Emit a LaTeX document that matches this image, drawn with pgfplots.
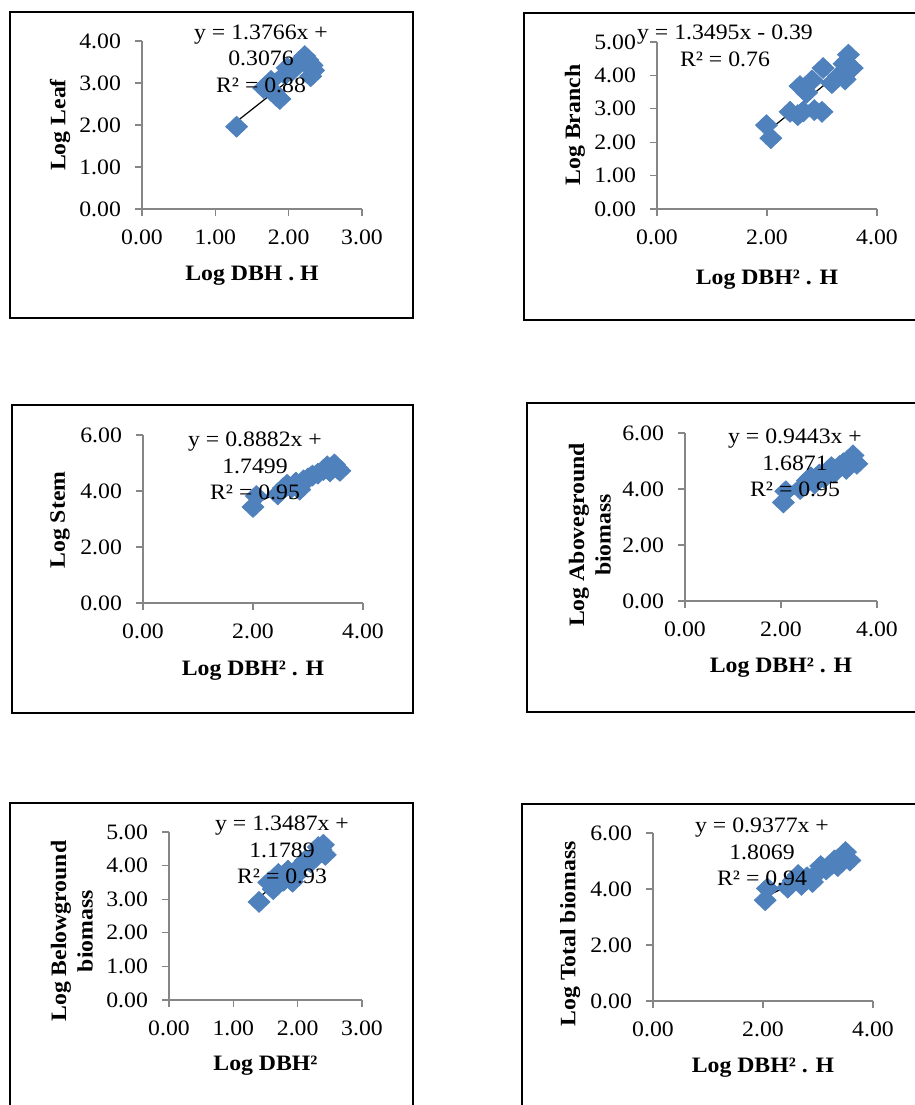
\documentclass[border=0pt]{standalone}
\usepackage{fontspec}
\setmainfont{Liberation Serif}[FakeStretch=1.08]
\usepackage{pgfplots}
\pgfplotsset{compat=1.18}
\definecolor{ptblue}{HTML}{4F81BD}
\definecolor{axgray}{HTML}{868686}
\newcommand\fs{\fontsize{11}{13.25}\selectfont}

\pgfplotsset{
  panel/.style={
    scale only axis,
    anchor=south west,
    axis lines=left,
    axis line style={draw=axgray, line width=0.6pt, -},
    tick style={draw=axgray, line width=0.6pt},
    tick align=outside,
    major tick length=3.5pt,
    tick label style={font=\fs},
    xticklabel style={yshift=-3.5pt},
    yticklabel style={xshift=-3.5pt},
    /pgf/number format/fixed,
    /pgf/number format/fixed zerofill,
    /pgf/number format/precision=2,
    /pgf/number format/assume math mode=true,
    label style={font=\fs\bfseries, align=center},
    xlabel style={anchor=center, yshift=-1.5pt},
    ylabel style={anchor=center},
    clip=false,
  },
  pts/.style={only marks, mark=diamond*, mark size=5.2pt, color=ptblue,
    mark options={xscale=1.4}},
  trend/.style={black, line width=0.6pt, no marks},
}

\begin{document}
\begin{tikzpicture}
% frames round the six charts
\draw[line width=0.9pt] (5pt,-6pt) rectangle (206.5pt,-159pt);
\draw[line width=0.9pt] (262pt,-6.5pt) rectangle (462pt,-160pt);
\draw[line width=0.9pt] (6pt,-202.5pt) rectangle (206.5pt,-356.5pt);
\draw[line width=0.9pt] (263.5pt,-201.5pt) rectangle (462pt,-356pt);
\draw[line width=0.9pt] (5pt,-401.5pt) rectangle (206.5pt,-558pt);
\draw[line width=0.9pt] (261pt,-402pt) rectangle (462pt,-558pt);

% Leaf
\begin{axis}[panel, at={(71pt,-104.5pt)}, width=110pt, height=84pt,
  xmin=0, xmax=3, ymin=0, ymax=4, xtick={0,1,2,3}, ytick={0,1,2,3,4},
  xlabel={Log DBH . H}, ylabel={Log Leaf},
  xlabel style={at={(axis description cs:0.5,-0.381)}},
  ylabel style={at={(axis description cs:-0.373,0.5)}}]
\addplot[pts] coordinates {
  (1.29,1.96) (1.66,2.88) (1.76,3.05) (1.80,2.78) (1.84,2.68) (1.88,2.62)
  (1.95,3.20) (1.98,3.36) (2.05,3.30) (2.10,3.42) (2.15,3.50) (2.22,3.64)
  (2.26,3.55) (2.30,3.16) (2.32,3.42) (2.34,3.30)};
\addplot[trend] coordinates {(1.29,2.083) (2.34,3.529)};
\end{axis}

% Branch
\begin{axis}[panel, at={(328.5pt,-104.5pt)}, width=110pt, height=83.5pt,
  xmin=0, xmax=4, ymin=0, ymax=5, xtick={0,2,4}, ytick={0,1,2,3,4,5},
  xlabel={Log DBH² . H}, ylabel={Log Branch},
  xlabel style={at={(axis description cs:0.5,-0.407)}},
  ylabel style={at={(axis description cs:-0.373,0.503)}}]
\addplot[pts] coordinates {
  (1.99,2.51) (2.07,2.12) (2.42,2.91) (2.56,2.81) (2.60,3.68) (2.66,2.92)
  (2.72,3.48) (2.82,3.85) (2.86,2.96) (3.00,2.91) (3.02,4.22) (3.18,3.77)
  (3.30,3.98) (3.40,4.35) (3.42,3.88) (3.48,4.62) (3.55,4.22)};
\addplot[trend] coordinates {(1.99,2.296) (3.55,4.401)};
\end{axis}

% Stem
\begin{axis}[panel, at={(71.5pt,-301.5pt)}, width=110pt, height=84pt,
  xmin=0, xmax=4, ymin=0, ymax=6, xtick={0,2,4}, ytick={0,2,4,6},
  xlabel={Log DBH² . H}, ylabel={Log Stem},
  xlabel style={at={(axis description cs:0.5,-0.387)}},
  ylabel style={at={(axis description cs:-0.377,0.494)}}]
\addplot[pts] coordinates {
  (2.00,3.43) (2.06,3.82) (2.45,3.88) (2.55,4.10) (2.62,4.22) (2.70,4.12)
  (2.78,4.30) (2.85,4.05) (2.92,4.38) (3.00,4.45) (3.08,4.55) (3.18,4.62)
  (3.28,4.75) (3.35,4.88) (3.40,4.70) (3.48,4.95) (3.53,4.82) (3.58,4.72)};
\addplot[trend] coordinates {(2.00,3.526) (3.58,4.930)};
\end{axis}

% Aboveground biomass
\begin{axis}[panel, at={(342.5pt,-300.5pt)}, width=96pt, height=84pt,
  xmin=0, xmax=4, ymin=0, ymax=6, xtick={0,2,4}, ytick={0,2,4,6},
  xlabel={Log DBH² . H}, ylabel={Log Aboveground\\biomass},
  xlabel style={at={(axis description cs:0.5,-0.381)}},
  ylabel style={at={(axis description cs:-0.495,0.393)}}]
\addplot[pts] coordinates {
  (2.05,3.52) (2.10,3.92) (2.40,4.00) (2.55,4.30) (2.62,4.42) (2.70,4.20)
  (2.80,4.52) (2.90,4.40) (3.00,4.68) (3.05,4.78) (3.12,4.60) (3.22,4.82)
  (3.30,4.92) (3.36,4.72) (3.45,5.05) (3.50,5.20) (3.58,4.90)};
\addplot[trend] coordinates {(2.05,3.623) (3.58,5.068)};
\end{axis}

% Belowground biomass
\begin{axis}[panel, at={(84.5pt,-500pt)}, width=96.5pt, height=84pt,
  xmin=0, xmax=3, ymin=0, ymax=5, xtick={0,1,2,3}, ytick={0,1,2,3,4,5},
  xlabel={Log DBH²}, ylabel={Log Belowground\\biomass},
  xlabel style={at={(axis description cs:0.5,-0.375)}},
  ylabel style={at={(axis description cs:-0.503,0.41)}}]
\addplot[pts] coordinates {
  (1.40,2.92) (1.55,3.50) (1.62,3.30) (1.70,3.75) (1.78,3.55) (1.85,3.85)
  (1.92,3.52) (1.98,3.72) (2.05,4.00) (2.12,4.15) (2.20,4.10) (2.27,4.30)
  (2.32,4.55) (2.36,4.48) (2.40,4.62) (2.43,4.32)};
\addplot[trend] coordinates {(1.40,3.067) (2.43,4.456)};
\end{axis}

% Total biomass
\begin{axis}[panel, at={(326.5pt,-500.5pt)}, width=110pt, height=84pt,
  xmin=0, xmax=4, ymin=0, ymax=6, xtick={0,2,4}, ytick={0,2,4,6},
  xlabel={Log DBH² . H}, ylabel={Log Total biomass},
  xlabel style={at={(axis description cs:0.5,-0.381)}},
  ylabel style={at={(axis description cs:-0.377,0.40)}}]
\addplot[pts] coordinates {
  (2.04,3.60) (2.08,4.02) (2.45,4.05) (2.55,4.30) (2.64,4.50) (2.70,4.15)
  (2.80,4.42) (2.90,4.25) (3.00,4.60) (3.05,4.82) (3.15,4.70) (3.25,4.88)
  (3.30,5.02) (3.36,4.82) (3.45,5.20) (3.50,5.32) (3.58,5.02)};
\addplot[trend] coordinates {(2.04,3.720) (3.58,5.164)};
\end{axis}

% trend line equations, set over the points
\begin{scope}[every node/.style={font=\fs, align=center, inner sep=0pt}]
\node at (130.5pt,-29.25pt) {y = 1.3766x +\\0.3076\\R² = 0.88};
\node at (362.5pt,-23pt) {y = 1.3495x - 0.39\\R² = 0.76};
\node at (127.5pt,-233pt) {y = 0.8882x +\\1.7499\\R² = 0.95};
\node at (397.5pt,-231.5pt) {y = 0.9443x +\\1.6871\\R² = 0.95};
\node at (141pt,-425pt) {y = 1.3487x +\\1.1789\\R² = 0.93};
\node at (381pt,-426pt) {y = 0.9377x +\\1.8069\\R² = 0.94};
\end{scope}

\pgfresetboundingbox
\path (0pt,0pt) rectangle (457.5pt,-552.5pt);
\end{tikzpicture}
\end{document}
